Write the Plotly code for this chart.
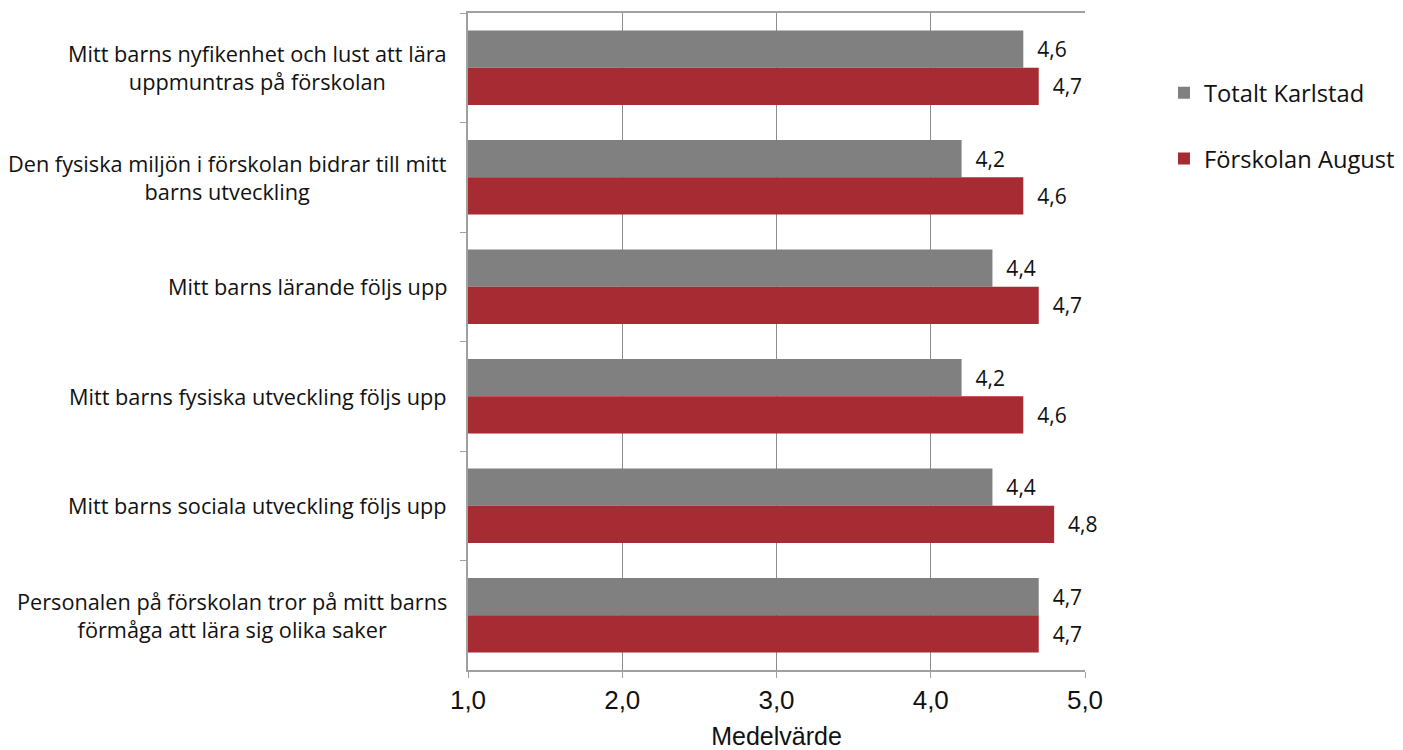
import plotly.graph_objects as go

categories = [
    "Mitt barns nyfikenhet och lust att lära<br>uppmuntras på förskolan",
    "Den fysiska miljön i förskolan bidrar till mitt<br>barns utveckling",
    "Mitt barns lärande följs upp",
    "Mitt barns fysiska utveckling följs upp",
    "Mitt barns sociala utveckling följs upp",
    "Personalen på förskolan tror på mitt barns<br>förmåga att lära sig olika saker",
]
series_names = ["Totalt Karlstad", "Förskolan August"]
totalt_karlstad = [4.6, 4.2, 4.4, 4.2, 4.4, 4.7]
forskolan_august = [4.7, 4.6, 4.7, 4.6, 4.8, 4.7]
x_tick_values = [1, 2, 3, 4, 5]
x_title = "Medelvärde"

colors = ["#808080", "#A62B33"]
label_font = "Open Sans, Liberation Sans, Arial, sans-serif"
axis_font = "Liberation Sans, Arial, sans-serif"


def fmt(v):
    return "\u00a0\u00a0" + f"{v:.1f}".replace(".", ",")


fig = go.Figure()
for name, vals, col in zip(series_names, [totalt_karlstad, forskolan_august], colors):
    fig.add_trace(go.Bar(
        y=categories, x=vals, base=0, orientation="h", name=name,
        marker=dict(color=col, line=dict(width=0)),
        text=[fmt(v) for v in vals], textposition="outside",
        textfont=dict(family=label_font, size=21, color="#111111"),
        constraintext="none", cliponaxis=False, legendgroup=name,
    ))

for c in categories:
    fig.add_annotation(
        x=0, xref="paper", xanchor="right", xshift=-19,
        y=c, yref="y", yanchor="middle",
        text=c, showarrow=False, align="center",
        font=dict(family=label_font, size=21.7, color="#111111"),
    )

fig.update_layout(
    width=1403, height=750,
    margin=dict(l=468, r=318, t=13, b=80, autoexpand=False),
    paper_bgcolor="white", plot_bgcolor="white",
    barmode="group", bargap=0.32, bargroupgap=0,
    separators=",.",
    showlegend=True,
    legend=dict(
        x=1.128, xanchor="left", y=0.912, yanchor="top",
        traceorder="grouped", tracegroupgap=32,
        font=dict(family=label_font, size=23.7, color="#111111"),
        bgcolor="rgba(0,0,0,0)",
    ),
)
fig.update_xaxes(
    range=[1, 5], tickvals=x_tick_values, tickformat=".1f",
    showgrid=True, gridcolor="#8C8C8C", gridwidth=1,
    showline=True, linecolor="#A0A0A0", linewidth=1.5, mirror=True,
    ticks="outside", ticklen=6, tickcolor="#A0A0A0",
    tickfont=dict(family=axis_font, size=26, color="#111111"),
    ticklabelstandoff=0,
    title=dict(text=x_title, font=dict(family=axis_font, size=25, color="#111111"), standoff=29),
    zeroline=False, automargin=False,
)
fig.update_yaxes(
    autorange="reversed", showticklabels=False,
    showline=True, linecolor="#A0A0A0", linewidth=1.5,
    ticks="outside", ticklen=6, tickcolor="#A0A0A0", tickson="boundaries",
    showgrid=False, zeroline=False, automargin=False,
)

fig.write_html("out.html", config={"displayModeBar": False},
               post_script="document.body.style.margin='0';")
